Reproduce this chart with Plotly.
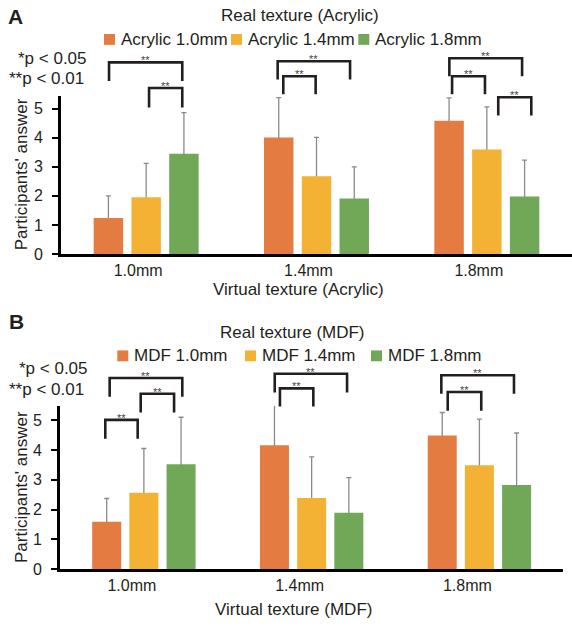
import plotly.graph_objects as go

# ---------------- data ----------------
categories = ["1.0mm", "1.4mm", "1.8mm"]
series_A = ["Acrylic 1.0mm", "Acrylic 1.4mm", "Acrylic 1.8mm"]
series_B = ["MDF 1.0mm", "MDF 1.4mm", "MDF 1.8mm"]

mean_A_10 = [1.24, 4.01, 4.58]
mean_A_14 = [1.95, 2.67, 3.59]
mean_A_18 = [3.45, 1.91, 1.98]
sd_A_10 = [0.76, 1.37, 0.79]
sd_A_14 = [1.17, 1.34, 1.47]
sd_A_18 = [1.41, 1.09, 1.25]

mean_B_10 = [1.59, 4.16, 4.49]
mean_B_14 = [2.56, 2.39, 3.49]
mean_B_18 = [3.52, 1.89, 2.82]
sd_B_10 = [0.78, 1.34, 0.77]
sd_B_14 = [1.49, 1.38, 1.55]
sd_B_18 = [1.58, 1.18, 1.75]

# significance brackets (x left, x right, y top, y leg end) in axis units
brackets_A = [(-0.218, 0.212, 6.59, 5.95), (0.017, 0.212, 5.71, 5.04),
              (0.772, 1.197, 6.63, 6.00), (0.805, 0.995, 6.11, 5.49),
              (1.780, 2.207, 6.73, 6.11), (1.796, 1.989, 6.11, 5.49),
              (2.067, 2.261, 5.39, 4.76)]
brackets_B = [(-0.204, 0.229, 6.42, 5.79), (-0.019, 0.180, 5.89, 5.26),
              (-0.230, -0.037, 5.01, 4.38), (0.780, 1.211, 6.56, 5.93),
              (0.811, 1.010, 6.07, 5.46), (1.773, 2.206, 6.51, 5.89),
              (1.811, 2.011, 5.95, 5.32)]
sig_label = "**"

# ---------------- style ----------------
W, H = 572, 631
ML = 60
FONT = "Arial, 'Liberation Sans', sans-serif"
TXT = "#231F20"
colors = ["#E47B41", "#F4B235", "#70A858"]
YMAX_A, YMAX_B = 5.45, 5.48


def px(xp):
    return (xp - ML) / (W - ML)


def py(yp):
    return (H - yp) / H


fig = go.Figure()

panels = [
    ("A", series_A, [mean_A_10, mean_A_14, mean_A_18], [sd_A_10, sd_A_14, sd_A_18], "x", "y"),
    ("B", series_B, [mean_B_10, mean_B_14, mean_B_18], [sd_B_10, sd_B_14, sd_B_18], "x2", "y2"),
]
for tag, names, means, sds, xa, ya in panels:
    # error bars (their lower half is hidden behind the bars drawn afterwards)
    for i in range(3):
        fig.add_trace(go.Bar(
            x=categories, y=means[i], name=names[i] + " SD", xaxis=xa, yaxis=ya,
            offsetgroup=f"{tag}{i}",
            marker=dict(color="rgba(0,0,0,0)", line=dict(width=0)),
            error_y=dict(type="data", array=sds[i], color="#8a8a8a",
                         thickness=1.3, width=2.5),
            showlegend=False, hoverinfo="skip",
        ))
    for i in range(3):
        fig.add_trace(go.Bar(
            x=categories, y=means[i], name=names[i], xaxis=xa, yaxis=ya,
            offsetgroup=f"{tag}{i}",
            marker=dict(color=colors[i], line=dict(width=0)),
            showlegend=False,
        ))

shapes = []
annotations = []

for brs, xa, ya, ymax in [(brackets_A, "x", "y", YMAX_A), (brackets_B, "x2", "y2", YMAX_B)]:
    for xl, xr, yt, yb in brs:
        t, b = yt / ymax, yb / ymax
        shapes.append(dict(type="path", xref=xa, yref=ya + " domain",
                           path=f"M {xl} {b} L {xl} {t} L {xr} {t} L {xr} {b}",
                           line=dict(color=TXT, width=2.6)))
        annotations.append(dict(xref=xa, yref=ya + " domain", x=(xl + xr) / 2, y=t,
                                text=sig_label, showarrow=False, yanchor="bottom",
                                yshift=-6, font=dict(size=11, color="#444", family=FONT)))

# manual legends
legend_items = [
    (series_A, [104, 231, 358.3], 40),
    (series_B, [117.3, 245, 371], 361),
]
for names, xs, yc in legend_items:
    for i, (nm, x0) in enumerate(zip(names, xs)):
        shapes.append(dict(type="rect", xref="paper", yref="paper",
                           x0=px(x0), x1=px(x0 + 11), y0=py(yc + 5.5), y1=py(yc - 5.5),
                           fillcolor=colors[i], line=dict(width=0)))
        annotations.append(dict(xref="paper", yref="paper", x=px(x0 + 15), y=py(yc),
                                xanchor="left", yanchor="middle", text=nm, showarrow=False,
                                font=dict(size=17, color=TXT, family=FONT)))

texts = [
    ("<b>A</b>", 6, 17, "left", 21),
    ("Real texture (Acrylic)", 300, 16, "center", 17),
    ("*p < 0.05", 16, 59, "left", 17),
    ("**p < 0.01", 6.5, 80, "left", 17),
    ("Virtual texture (Acrylic)", 298, 294, "center", 17),
    ("<b>B</b>", 7, 326, "left", 21),
    ("Real texture (MDF)", 292, 337, "center", 17),
    ("*p < 0.05", 16.5, 374, "left", 17),
    ("**p < 0.01", 6.5, 395, "left", 17),
    ("Virtual texture (MDF)", 293, 618, "center", 17),
]
for t, x, y, anc, sz in texts:
    annotations.append(dict(xref="paper", yref="paper", x=px(x), y=py(y), text=t,
                            xanchor=anc, yanchor="middle", showarrow=False,
                            font=dict(size=sz, color=TXT, family=FONT)))

# y-axis titles
for yc in [(96.9 + 257.7) / 2, (411.8 + 577.3) / 2]:
    annotations.append(dict(xref="paper", yref="paper", x=px(21.5), y=py(yc),
                            text="Participants' answer", textangle=-90, showarrow=False,
                            xanchor="center", yanchor="middle",
                            font=dict(size=17, color=TXT, family=FONT)))

xcommon = dict(showline=True, linewidth=3, linecolor="black", ticks="", showgrid=False,
               zeroline=False, tickfont=dict(size=16, color=TXT, family=FONT),
               range=[-0.5, 2.5])
ycommon = dict(showline=True, linewidth=3, linecolor="black", ticks="outside", ticklen=6,
               tickwidth=2, tickcolor="black", showgrid=False, zeroline=False,
               tickvals=[0, 1, 2, 3, 4, 5], ticklabelstandoff=6,
               tickfont=dict(size=16, color=TXT, family=FONT))

fig.update_layout(
    width=W, height=H,
    margin=dict(l=ML, r=0, t=0, b=0),
    paper_bgcolor="white", plot_bgcolor="white",
    barmode="group", bargap=0.335, bargroupgap=0.22,
    font=dict(family=FONT, color=TXT),
    xaxis=dict(**xcommon, domain=[px(61), 1.0], anchor="y", ticklabelshift=-8),
    yaxis=dict(**ycommon, domain=[py(257.7), py(96.9)], range=[0, YMAX_A], anchor="x"),
    xaxis2=dict(**xcommon, domain=[px(60), px(563.3)], anchor="y2", ticklabelshift=-12),
    yaxis2=dict(**ycommon, domain=[py(577.3), py(411.8)], range=[0, YMAX_B], anchor="x2"),
    shapes=shapes, annotations=annotations,
    showlegend=False,
)

fig.write_html("out.html")
